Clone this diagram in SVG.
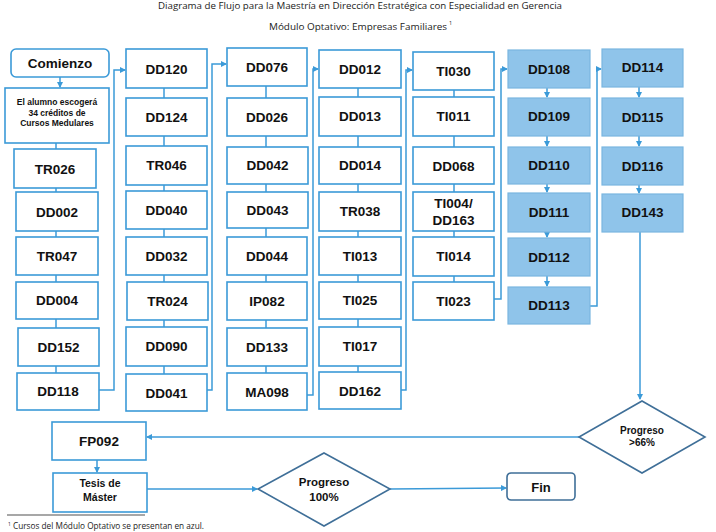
<svg xmlns="http://www.w3.org/2000/svg" width="716" height="532" viewBox="0 0 716 532">
<defs>
<marker id="ah" markerWidth="6" markerHeight="6" refX="5" refY="3" orient="auto" markerUnits="userSpaceOnUse">
<path d="M0,0 L6,3 L0,6 Z" fill="#3b9ad8"/>
</marker>
<style>
.bx{fill:#fff;stroke:#3b9ad8;stroke-width:1.6}
.bl{fill:#8fc4ea;stroke:#7ab6e0;stroke-width:1.2}
.dm{fill:#fff;stroke:#3f6f98;stroke-width:1.6}
.t{font-family:"Liberation Sans",Arial,sans-serif;font-weight:bold;font-size:13.5px;fill:#111;text-anchor:middle}
.s{font-family:"Liberation Sans",Arial,sans-serif;font-weight:bold;font-size:8.5px;fill:#111;text-anchor:middle}
.ti{font-family:"Open Sans","Liberation Sans",Arial,sans-serif;font-size:9.5px;fill:#222;text-anchor:start}
.c{fill:none;stroke:#3b9ad8;stroke-width:1.5}
</style>
</defs>
<rect width="716" height="532" fill="#fff"/>
<text class="ti" x="158" y="8.5" textLength="404" lengthAdjust="spacingAndGlyphs">Diagrama de Flujo para la Maestría en Dirección Estratégica con Especialidad en Gerencia</text>
<text class="ti" x="269" y="30" textLength="178" lengthAdjust="spacingAndGlyphs">Módulo Optativo: Empresas Familiares</text>
<text class="ti" x="449" y="25" style="font-size:5.5px">1</text>

<g id="connectors">
<line class="c" x1="60" y1="77" x2="60" y2="87" marker-end="url(#ah)"/>
<line class="c" x1="56" y1="143" x2="56" y2="373"/>
<polyline class="c" points="99,390 114,390 114,70 125,70" marker-end="url(#ah)"/>
<line class="c" x1="164" y1="88" x2="164" y2="374"/>
<polyline class="c" points="207,390 212,390 212,64 226,64" marker-end="url(#ah)"/>
<line class="c" x1="266" y1="86" x2="266" y2="373"/>
<polyline class="c" points="307,395 313,395 313,69 318,69" marker-end="url(#ah)"/>
<line class="c" x1="358" y1="88" x2="358" y2="372"/>
<polyline class="c" points="401,390 406,390 406,70 412,70" marker-end="url(#ah)"/>
<line class="c" x1="454" y1="90" x2="454" y2="282"/>
<polyline class="c" points="494,299 501,299 501,69 507,69" marker-end="url(#ah)"/>
<line class="c" x1="547" y1="88" x2="547" y2="97" marker-end="url(#ah)"/>
<line class="c" x1="547" y1="136" x2="547" y2="146" marker-end="url(#ah)"/>
<line class="c" x1="547" y1="184" x2="547" y2="192" marker-end="url(#ah)"/>
<line class="c" x1="547" y1="232" x2="547" y2="237" marker-end="url(#ah)"/>
<line class="c" x1="547" y1="276" x2="547" y2="286" marker-end="url(#ah)"/>
<polyline class="c" points="590,306 597,306 597,69 601,69" marker-end="url(#ah)"/>
<line class="c" x1="639" y1="87" x2="639" y2="97" marker-end="url(#ah)"/>
<line class="c" x1="639" y1="136" x2="639" y2="146" marker-end="url(#ah)"/>
<line class="c" x1="639" y1="185" x2="639" y2="193" marker-end="url(#ah)"/>
<line class="c" x1="640" y1="232" x2="640" y2="399" marker-end="url(#ah)"/>
<line class="c" x1="579" y1="437" x2="147" y2="437" marker-end="url(#ah)"/>
<line class="c" x1="97" y1="460" x2="97" y2="472" marker-end="url(#ah)"/>
<line class="c" x1="147" y1="489" x2="257" y2="489" marker-end="url(#ah)"/>
<line class="c" x1="390" y1="489" x2="506" y2="488" marker-end="url(#ah)"/>
</g>

<g id="n-comienzo"><rect class="bx" x="11" y="49" width="98" height="28" rx="5"/><text class="t" x="60" y="68">Comienzo</text></g>
<g id="n-intro"><rect class="bx" x="5" y="88" width="104" height="55"/>
<text class="s" x="57" y="105">El alumno escogerá</text><text class="s" x="57" y="115.5">34 créditos de</text><text class="s" x="57" y="126">Cursos Medulares</text></g>
<g id="n-TR026"><rect class="bx" x="14" y="149" width="82" height="39"/><text class="t" x="55" y="173.5">TR026</text></g>
<g id="n-DD002"><rect class="bx" x="16" y="192" width="82" height="39"/><text class="t" x="57" y="216.5">DD002</text></g>
<g id="n-TR047"><rect class="bx" x="16" y="237" width="82" height="38"/><text class="t" x="57" y="260.5">TR047</text></g>
<g id="n-DD004"><rect class="bx" x="16" y="282" width="82" height="37"/><text class="t" x="57" y="305">DD004</text></g>
<g id="n-DD152"><rect class="bx" x="18" y="328" width="81" height="38"/><text class="t" x="58.5" y="351.5">DD152</text></g>
<g id="n-DD118"><rect class="bx" x="17" y="373" width="82" height="37"/><text class="t" x="58" y="396">DD118</text></g>

<g id="n-DD120"><rect class="bx" x="126" y="49" width="81" height="39"/><text class="t" x="166.5" y="73.5">DD120</text></g>
<g id="n-DD124"><rect class="bx" x="126" y="98" width="81" height="38"/><text class="t" x="166.5" y="121.5">DD124</text></g>
<g id="n-TR046"><rect class="bx" x="126" y="146" width="81" height="39"/><text class="t" x="166.5" y="169.5">TR046</text></g>
<g id="n-DD040"><rect class="bx" x="126" y="191" width="81" height="38"/><text class="t" x="166.5" y="214.5">DD040</text></g>
<g id="n-DD032"><rect class="bx" x="126" y="237" width="81" height="38"/><text class="t" x="166.5" y="260.5">DD032</text></g>
<g id="n-TR024"><rect class="bx" x="127" y="282" width="81" height="38"/><text class="t" x="167.5" y="305.5">TR024</text></g>
<g id="n-DD090"><rect class="bx" x="126" y="327" width="81" height="39"/><text class="t" x="166.5" y="351">DD090</text></g>
<g id="n-DD041"><rect class="bx" x="126" y="374" width="81" height="37"/><text class="t" x="166.5" y="397.5">DD041</text></g>

<g id="n-DD076"><rect class="bx" x="227" y="48" width="80" height="38"/><text class="t" x="267" y="71.5">DD076</text></g>
<g id="n-DD026"><rect class="bx" x="227" y="98" width="80" height="38"/><text class="t" x="267" y="121.5">DD026</text></g>
<g id="n-DD042"><rect class="bx" x="227" y="147" width="81" height="37"/><text class="t" x="267.5" y="170">DD042</text></g>
<g id="n-DD043"><rect class="bx" x="227" y="192" width="81" height="36"/><text class="t" x="267.5" y="215">DD043</text></g>
<g id="n-DD044"><rect class="bx" x="227" y="237" width="80" height="38"/><text class="t" x="267" y="260.5">DD044</text></g>
<g id="n-IP082"><rect class="bx" x="227" y="282" width="80" height="38"/><text class="t" x="267" y="305.5">IP082</text></g>
<g id="n-DD133"><rect class="bx" x="227" y="328" width="80" height="38"/><text class="t" x="267" y="351.5">DD133</text></g>
<g id="n-MA098"><rect class="bx" x="227" y="373" width="80" height="37"/><text class="t" x="267" y="396.5">MA098</text></g>

<g id="n-DD012"><rect class="bx" x="319" y="50" width="82" height="38"/><text class="t" x="360" y="73.5">DD012</text></g>
<g id="n-DD013"><rect class="bx" x="319" y="97" width="82" height="39"/><text class="t" x="360" y="121">DD013</text></g>
<g id="n-DD014"><rect class="bx" x="319" y="147" width="82" height="37"/><text class="t" x="360" y="170">DD014</text></g>
<g id="n-TR038"><rect class="bx" x="319" y="192" width="82" height="39"/><text class="t" x="360" y="216">TR038</text></g>
<g id="n-TI013"><rect class="bx" x="319" y="237" width="82" height="38"/><text class="t" x="360" y="260.5">TI013</text></g>
<g id="n-TI025"><rect class="bx" x="319" y="282" width="82" height="37"/><text class="t" x="360" y="305">TI025</text></g>
<g id="n-TI017"><rect class="bx" x="319" y="327" width="82" height="39"/><text class="t" x="360" y="351">TI017</text></g>
<g id="n-DD162"><rect class="bx" x="319" y="372" width="82" height="37"/><text class="t" x="360" y="395.5">DD162</text></g>

<g id="n-TI030"><rect class="bx" x="413" y="52" width="81" height="38"/><text class="t" x="453.5" y="75.5">TI030</text></g>
<g id="n-TI011"><rect class="bx" x="413" y="97" width="81" height="39"/><text class="t" x="453.5" y="120.5">TI011</text></g>
<g id="n-DD068"><rect class="bx" x="413" y="147" width="81" height="37"/><text class="t" x="453.5" y="170.5">DD068</text></g>
<g id="n-TI004"><rect class="bx" x="413" y="192" width="81" height="39"/><text class="t" x="453.5" y="208">TI004/</text><text class="t" x="453.5" y="225">DD163</text></g>
<g id="n-TI014"><rect class="bx" x="413" y="237" width="81" height="39"/><text class="t" x="453.5" y="260.5">TI014</text></g>
<g id="n-TI023"><rect class="bx" x="413" y="282" width="81" height="38"/><text class="t" x="453.5" y="305.5">TI023</text></g>

<g id="n-DD108"><rect class="bl" x="508" y="50" width="82" height="38"/><text class="t" x="549" y="73.5">DD108</text></g>
<g id="n-DD109"><rect class="bl" x="508" y="98" width="82" height="38"/><text class="t" x="549" y="120.5">DD109</text></g>
<g id="n-DD110"><rect class="bl" x="508" y="147" width="82" height="37"/><text class="t" x="549" y="170">DD110</text></g>
<g id="n-DD111"><rect class="bl" x="508" y="193" width="82" height="39"/><text class="t" x="549" y="216.5">DD111</text></g>
<g id="n-DD112"><rect class="bl" x="508" y="238" width="82" height="38"/><text class="t" x="549" y="261.5">DD112</text></g>
<g id="n-DD113"><rect class="bl" x="508" y="287" width="82" height="37"/><text class="t" x="549" y="310">DD113</text></g>

<g id="n-DD114"><rect class="bl" x="602" y="49" width="81" height="38"/><text class="t" x="642.5" y="72">DD114</text></g>
<g id="n-DD115"><rect class="bl" x="602" y="98" width="81" height="38"/><text class="t" x="642.5" y="121.5">DD115</text></g>
<g id="n-DD116"><rect class="bl" x="602" y="147" width="81" height="38"/><text class="t" x="642.5" y="170.5">DD116</text></g>
<g id="n-DD143"><rect class="bl" x="602" y="194" width="81" height="38"/><text class="t" x="642.5" y="217">DD143</text></g>

<g id="n-prog66"><polygon class="dm" points="642,401 705,437 642,473 579,437"/>
<text class="t" x="642" y="434" style="font-size:10px">Progreso</text><text class="t" x="642" y="446" style="font-size:10px">&gt;66%</text></g>
<g id="n-FP092"><rect class="bx" x="52" y="422" width="94" height="38"/><text class="t" x="99" y="446">FP092</text></g>
<g id="n-tesis"><rect class="bx" x="53" y="473" width="94" height="39"/>
<text class="t" x="100" y="487" style="font-size:10.5px">Tesis de</text><text class="t" x="100" y="500.5" style="font-size:10.5px">Máster</text></g>
<g id="n-prog100"><polygon class="dm" points="324,453 390,489 324,526 258,489"/>
<text class="t" x="324" y="486" style="font-size:11.5px">Progreso</text><text class="t" x="324" y="501" style="font-size:11.5px">100%</text></g>
<g id="n-fin"><rect class="dm" x="507" y="473" width="68" height="27" rx="4"/><text class="t" x="541" y="491.5" style="font-size:13px">Fin</text></g>

<line x1="7" y1="515" x2="145" y2="515" stroke="#8a8a8a" stroke-width="1.5"/>
<text class="ti" x="8" y="526" style="font-size:5px">1</text>
<text class="ti" x="13" y="529" style="font-size:8.5px" textLength="191" lengthAdjust="spacingAndGlyphs">Cursos del Módulo Optativo se presentan en azul.</text>
</svg>
